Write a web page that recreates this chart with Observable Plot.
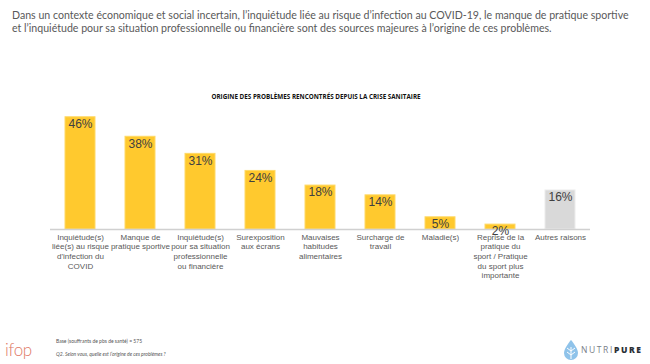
<!DOCTYPE html>
<html>
<head>
<meta charset="utf-8">
<script src="https://cdn.jsdelivr.net/npm/d3@7"></script>
<script src="https://cdn.jsdelivr.net/npm/@observablehq/plot@0.6"></script>
<style>
  html, body { margin: 0; padding: 0; background: #fff; }
  #wrap { position: relative; width: 650px; height: 364px; overflow: hidden; font-family: "Liberation Sans", Arial, sans-serif; }
  #chart { position: absolute; left: 0; top: 0; }
  .abs { position: absolute; white-space: nowrap; }
  #head { left: 12px; top: 9px; font-family: Lato, sans-serif; font-size: 10.6px; line-height: 12.5px; color: #595959; }
  #title { left: 0; width: 632px; text-align: center; top: 92px; font-family: "Open Sans", sans-serif; font-weight: 700; font-size: 6.3px; color: #111; }
  #base { left: 56px; top: 338px; font-family: Lato, sans-serif; font-size: 5px; color: #555; }
  #q { left: 56px; top: 351px; font-family: Lato, sans-serif; font-style: italic; font-size: 5px; color: #555; }
  #ifop { left: 5px; top: 339px; font-family: Lato, sans-serif; font-weight: 300; font-size: 17px; color: #e07a66; letter-spacing: -0.3px; }
  #nutri { left: 581px; top: 344px; font-family: "Open Sans", sans-serif; font-size: 8.5px; letter-spacing: 1.6px; color: #7a8088; }
  #nutri b { color: #2a2f36; font-weight: 800; }
</style>
</head>
<body>
<div id="wrap">
  <div id="chart"></div>
  <div id="head" class="abs">Dans un contexte économique et social incertain, l’inquiétude liée au risque d’infection au COVID-19, le manque de pratique sportive<br>et l’inquiétude pour sa situation professionnelle ou financière sont des sources majeures à l’origine de ces problèmes.</div>
  <div id="title" class="abs">ORIGINE DES PROBLÈMES RENCONTRÉS DEPUIS LA CRISE SANITAIRE</div>
  <div id="ifop" class="abs">ifop</div>
  <div id="base" class="abs">Base (souffrants de pbs de santé) = 575</div>
  <div id="q" class="abs">Q2. Selon vous, quelle est l’origine de ces problèmes ?</div>
  <svg class="abs" style="left:562px;top:339px" width="18" height="22" viewBox="0 0 18 22">
    <path d="M9 1 C9 1 2 9 2 14 A7 7 0 0 0 16 14 C16 9 9 1 9 1 Z" fill="#8fc3ea"/>
    <path d="M9 8 L9 20 M9 12 L5 9 M9 12 L13 9 M9 16 L5 13 M9 16 L13 13" stroke="#fff" stroke-width="1" fill="none"/>
  </svg>
  <div id="nutri" class="abs">NUTRI<b>PURE</b></div>
</div>
<script>
const categories = [
  "Inquiétude(s)\nliée(s) au risque\nd'infection du\nCOVID",
  "Manque de\npratique sportive",
  "Inquiétude(s)\npour sa situation\nprofessionnelle\nou financière",
  "Surexposition\naux écrans",
  "Mauvaises\nhabitudes\nalimentaires",
  "Surcharge de\ntravail",
  "Maladie(s)",
  "Reprise de la\npratique du\nsport / Pratique\ndu sport plus\nimportante",
  "Autres raisons"
];
const values = [46, 38, 31, 24, 18, 14, 5, 2, 16];
const isOther = [false, false, false, false, false, false, false, false, true];

const data = categories.map((c, i) => ({cat: c, value: values[i], other: isOther[i]}));

const chart = Plot.plot({
  width: 650,
  height: 364,
  marginLeft: 50,
  marginRight: 60,
  marginTop: 107,
  marginBottom: 135,
  style: {background: "transparent", fontFamily: "Liberation Sans, Arial, sans-serif"},
  x: {domain: categories, paddingInner: 0.5, paddingOuter: 0.25, axis: null},
  y: {domain: [0, 50], axis: null},
  marks: [
    Plot.barY(data, {x: "cat", y: "value", fill: d => d.other ? "#D9D9D9" : "#FFC92E", stroke: d => d.other ? "#ececec" : "#ffd966", strokeWidth: 1}),
    Plot.ruleY([0], {stroke: "#d0d0d0", strokeWidth: 1.5}),
    Plot.text(data, {x: "cat", y: "value", text: d => d.value + "%", dy: 7, lineAnchor: "middle", fontSize: 12, fill: "#404040"}),
    Plot.text(data, {x: "cat", y: 0, text: "cat", dy: 3.5, lineAnchor: "top", fontSize: 8, lineHeight: 1.2, fill: "#595959"})
  ]
});
document.getElementById("chart").appendChild(chart);
</script>
</body>
</html>
